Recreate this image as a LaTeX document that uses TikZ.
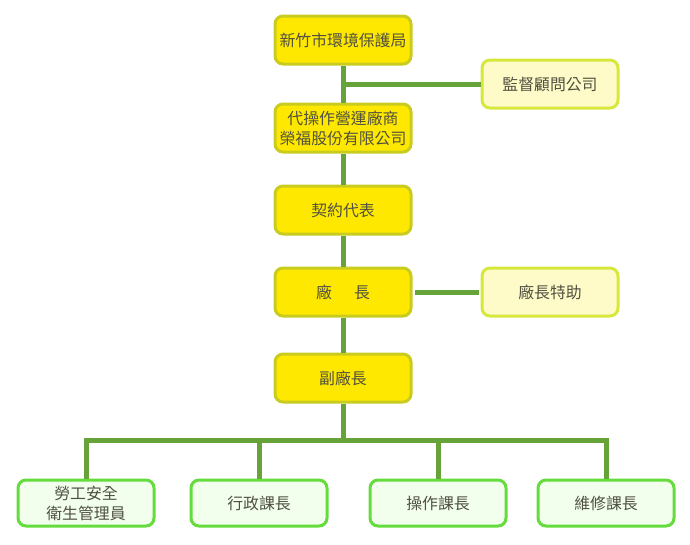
\documentclass[tikz,border=0pt]{standalone}
\usepackage{fontspec}
\setmainfont{Noto Sans CJK TC}
\usepackage{tikz}
\usetikzlibrary{positioning}
\definecolor{mainfill}{RGB}{255,232,0}
\definecolor{mainedge}{RGB}{200,204,30}
\definecolor{sidefill}{RGB}{255,251,200}
\definecolor{sideedge}{RGB}{215,232,60}
\definecolor{unitfill}{RGB}{242,255,236}
\definecolor{unitedge}{RGB}{100,220,60}
\definecolor{linkgreen}{RGB}{102,163,57}
\definecolor{labelgray}{RGB}{80,80,66}
\tikzset{
    mainbox/.style={rectangle, rounded corners=6pt, draw=mainedge, fill=mainfill, line width=2.25pt,
        minimum width=102pt, minimum height=36pt, text=labelgray, align=center,
        font=\fontsize{11.9}{15}\selectfont}, % yellow boxes on the main line
    sidebox/.style={mainbox, draw=sideedge, fill=sidefill}, % pale boxes on the side
    unitbox/.style={mainbox, draw=unitedge, fill=unitfill, minimum height=34.5pt}, % green boxes at the bottom
    link/.style={draw=linkgreen, line width=3.75pt}, % connectors
}
\begin{document}
\begin{tikzpicture}[x=0.75pt, y=-0.75pt]
        \useasboundingbox (0,0) rectangle (690,544);
        % Nodes
        \node[mainbox] (epb) at (343,40) {新竹市環境保護局};
        \node[mainbox, below of=epb, node distance=66pt] (oper) {代操作營運廠商\\榮福股份有限公司};
        \node[mainbox, below of=oper, node distance=61.5pt] (contract) {契約代表};
        \node[mainbox, below of=contract, node distance=61.5pt] (chief) {廠\hspace{1.4em}長};
        \node[mainbox, below of=chief, node distance=64.5pt] (vice) {副廠長};
        \node[sidebox, right of=epb, node distance=155.25pt, yshift=-33pt] (consult) {監督顧問公司};
        \node[sidebox, right of=chief, node distance=155.25pt] (assist) {廠長特助};
        \coordinate[below of=vice, node distance=46.5pt] (bus);
        \node[unitbox, below of=vice, node distance=93.75pt, xshift=-192.75pt] (safety) {勞工安全\\衛生管理員};
        \node[unitbox, below of=vice, node distance=93.75pt, xshift=-63pt] (admin) {行政課長};
        \node[unitbox, below of=vice, node distance=93.75pt, xshift=71.25pt] (operate) {操作課長};
        \node[unitbox, below of=vice, node distance=93.75pt, xshift=197.25pt] (repair) {維修課長};

        % Draw lines
        \draw[link] (epb) -- (oper);
        \draw[link] (consult) -- (consult -| epb);
        \draw[link] (oper) -- (contract);
        \draw[link] (contract) -- (chief);
        \draw[link, shorten <=1.5pt, shorten >=1.5pt] (chief) -- (assist);
        \draw[link] (chief) -- (vice);
        \draw[link] (vice) -- (bus);
        \draw[link] (safety) |- (bus);
        \draw[link] (repair) |- (bus);
        \draw[link] (admin) -- (admin |- bus);
        \draw[link] (operate) -- (operate |- bus);
    \end{tikzpicture}
\end{document}
